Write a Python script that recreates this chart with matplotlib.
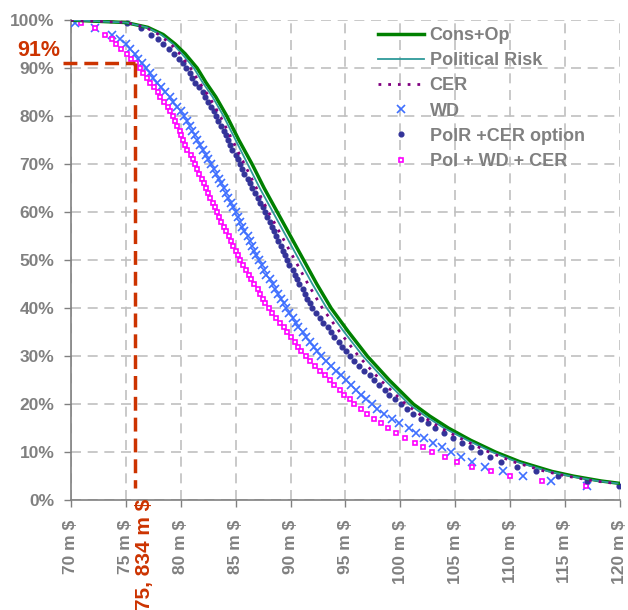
import matplotlib
matplotlib.use('Agg')
import matplotlib.pyplot as plt

plt.rcParams['font.family'] = ['Liberation Sans', 'DejaVu Sans']

## probability levels (%) and costs (m $)
LINE_PROB = [100, 99.5, 98.5, 97, 95, 93, 90, 87, 84, 80, 75, 70, 65, 60, 55, 50,
             45, 40, 35, 30, 25, 20, 17.5, 15, 12.5, 10, 8, 6, 5, 4, 3.5]
cons_op = [70.0, 75.0, 77.0, 78.4, 79.5, 80.4, 81.5, 82.3, 83.2, 84.2, 85.3, 86.5, 87.6,
           88.8, 90.0, 91.2, 92.4, 93.7, 95.3, 97.0, 99.0, 101.2, 102.7, 104.4, 106.4,
           108.7, 110.9, 113.8, 115.8, 118.3, 120.0]
political_risk = [70.0, 75.0, 76.9, 78.2, 79.3, 80.1, 81.2, 82.0, 82.9, 83.9, 85.0, 86.1,
                  87.2, 88.4, 89.6, 90.8, 92.0, 93.3, 94.9, 96.6, 98.6, 100.8, 102.3,
                  104.0, 106.1, 108.4, 110.6, 113.5, 115.5, 118.0, 119.8]
cer = [70.0, 75.0, 76.8, 78.0, 79.1, 79.9, 80.9, 81.7, 82.6, 83.6, 84.7, 85.8, 86.9, 88.0,
       89.2, 90.4, 91.6, 92.9, 94.5, 96.2, 98.2, 100.5, 102.0, 103.7, 105.8, 108.1, 110.3,
       113.2, 115.2, 117.7, 119.6]

MARKER_PROB = [99.5, 98.3, 97, 96, 95, 94, 93, 92, 91, 90,
               89, 88, 87, 86, 85, 84, 83, 82, 81, 80,
               79, 78, 77, 76, 75, 74, 73, 72, 71, 70,
               69, 68, 67, 66, 65, 64, 63, 62, 61, 60,
               59, 58, 57, 56, 55, 54, 53, 52, 51, 50,
               49, 48, 47, 46, 45, 44, 43, 42, 41, 40,
               39, 38, 37, 36, 35, 34, 33, 32, 31, 30,
               29, 28, 27, 26, 25, 24, 23, 22, 21, 20,
               19, 18, 17, 16, 15, 14, 13, 12, 11, 10,
               9, 8, 7, 6, 5, 4, 3]
wd = [70.4, 72.2, 73.7, 74.5, 75.0, 75.4, 75.8, 76.1, 76.5, 76.8,
      77.2, 77.5, 77.8, 78.2, 78.6, 79.0, 79.3, 79.7, 80.0, 80.3,
      80.6, 80.8, 81.0, 81.3, 81.5, 81.8, 82.0, 82.3, 82.5, 82.8,
      83.0, 83.2, 83.5, 83.7, 83.9, 84.1, 84.3, 84.6, 84.8, 85.0,
      85.2, 85.4, 85.6, 85.8, 86.1, 86.3, 86.5, 86.7, 86.9, 87.1,
      87.4, 87.6, 87.8, 88.1, 88.4, 88.6, 88.9, 89.1, 89.4, 89.6,
      89.9, 90.2, 90.5, 90.7, 91.1, 91.4, 91.8, 92.1, 92.4, 92.8,
      93.2, 93.7, 94.1, 94.6, 95.1, 95.5, 96.0, 96.4, 96.9, 97.4,
      97.9, 98.5, 99.2, 99.9, 100.8, 101.4, 102.2, 103.0, 103.8, 104.6,
      105.5, 106.5, 107.7, 109.4, 111.2, 113.7, 117.0]
polr_cer = [75.1, 76.4, 77.3, 77.9, 78.4, 78.9, 79.4, 79.8, 80.2, 80.5,
            80.8, 81.0, 81.3, 81.7, 82.0, 82.2, 82.5, 82.8, 83.0, 83.2,
            83.4, 83.7, 83.9, 84.1, 84.3, 84.5, 84.7, 85.0, 85.2, 85.4,
            85.6, 85.8, 86.1, 86.3, 86.5, 86.8, 87.0, 87.2, 87.5, 87.7,
            87.9, 88.1, 88.3, 88.5, 88.7, 88.9, 89.1, 89.3, 89.5, 89.7,
            89.9, 90.2, 90.4, 90.6, 90.8, 91.1, 91.3, 91.5, 91.8, 92.0,
            92.3, 92.7, 93.0, 93.4, 93.7, 94.0, 94.4, 94.7, 95.1, 95.4,
            95.8, 96.2, 96.7, 97.2, 97.6, 98.1, 98.6, 99.0, 99.5, 100.1,
            100.6, 101.2, 101.9, 102.5, 103.2, 104.0, 104.8, 105.6, 106.4, 107.3,
            108.2, 109.2, 110.6, 112.4, 114.4, 117.0, 119.9]
pol_wd_cer = [70.9, 72.2, 73.1, 73.7, 74.1, 74.6, 75.1, 75.5, 75.9, 76.3,
              76.6, 76.9, 77.2, 77.6, 77.9, 78.1, 78.5, 78.8, 79.0, 79.3,
              79.5, 79.7, 79.9, 80.0, 80.2, 80.4, 80.6, 80.9, 81.1, 81.3,
              81.5, 81.7, 81.9, 82.1, 82.3, 82.5, 82.7, 82.9, 83.1, 83.3,
              83.5, 83.7, 83.9, 84.1, 84.4, 84.6, 84.8, 85.0, 85.2, 85.4,
              85.7, 85.9, 86.2, 86.4, 86.7, 87.0, 87.2, 87.5, 87.7, 88.0,
              88.3, 88.7, 89.0, 89.4, 89.7, 90.0, 90.4, 90.7, 91.0, 91.4,
              91.8, 92.2, 92.7, 93.1, 93.6, 94.0, 94.5, 94.9, 95.4, 95.8,
              96.4, 97.0, 97.6, 98.2, 98.9, 99.6, 100.4, 101.3, 102.1, 102.9,
              104.1, 105.2, 106.5, 108.3, 110.0, 112.9, 116.9]

X_TICKS = [70, 75, 80, 85, 90, 95, 100, 105, 110, 115, 120]
X_TICK_LABELS = ['%d m $' % v for v in X_TICKS]
Y_TICKS = [0, 10, 20, 30, 40, 50, 60, 70, 80, 90, 100]
Y_TICK_LABELS = ['%d%%' % v for v in Y_TICKS]

CUTOFF_VALUE = 75.834
CUTOFF_PROB = 91
CUTOFF_LABEL = '75, 834 m $'
CUTOFF_PROB_LABEL = '91%'

GREY = '#808080'
RED = '#CC3300'

fig = plt.figure(figsize=(6.28, 6.10), dpi=100)
ax = fig.add_axes([0.113, 0.180, 0.874, 0.787])

ax.plot(wd, MARKER_PROB, linestyle='none', marker='x', color='#3F6FFF',
        markersize=6, markeredgewidth=1.2, label='WD', zorder=3)
ax.plot(polr_cer, MARKER_PROB, linestyle='none', marker='o', color='#333399',
        markersize=3.4, label='PolR +CER option', zorder=4)
ax.plot(pol_wd_cer, MARKER_PROB, linestyle='none', marker='s', color='#FF00FF',
        markerfacecolor='white', markersize=3.4, markeredgewidth=1.2,
        label='Pol + WD + CER', zorder=3)
ax.plot(cons_op, LINE_PROB, color='#008000', linewidth=2.5, label='Cons+Op', zorder=5)
ax.plot(political_risk, LINE_PROB, color='#2E9A9A', linewidth=1.3,
        label='Political Risk', zorder=5)
ax.plot(cer, LINE_PROB, color='#800080', linewidth=2, linestyle=(0, (1, 2.5)),
        label='CER', zorder=5)

## cut-off marker lines
ax.plot([69.3, CUTOFF_VALUE], [CUTOFF_PROB, CUTOFF_PROB], color=RED, linewidth=2.5,
        linestyle=(0, (4, 2)), clip_on=False, zorder=6)
ax.plot([CUTOFF_VALUE, CUTOFF_VALUE], [CUTOFF_PROB, 2.5], color=RED, linewidth=2.5,
        linestyle=(0, (4, 2)), zorder=6)
ax.text(CUTOFF_VALUE + 0.85, 0.4, CUTOFF_LABEL, rotation=90, ha='center', va='top',
        color=RED, fontsize=15, fontweight='bold', clip_on=False)
fig.text(17 / 628, 1 - 50 / 610, CUTOFF_PROB_LABEL, ha='left', va='center',
         color=RED, fontsize=15.5, fontweight='bold')

ax.set_xlim(70, 120)
ax.set_ylim(0, 100)
ax.set_xticks(X_TICKS, X_TICK_LABELS, rotation=90)
ax.set_yticks(Y_TICKS, Y_TICK_LABELS)
ax.tick_params(axis='both', colors=GREY, labelcolor=GREY, labelsize=12.5, length=5,
               width=1)
ax.tick_params(axis='x', pad=9)
ax.tick_params(axis='y', pad=7)
for lab in ax.get_xticklabels() + ax.get_yticklabels():
    lab.set_fontweight('bold')
ax.grid(True, color='#C0C0C0', linestyle=(0, (6, 4)), linewidth=1.2)
ax.set_axisbelow(True)
for side in ['top', 'right']:
    ax.spines[side].set_visible(False)
for side in ['left', 'bottom']:
    ax.spines[side].set_color(GREY)
    ax.spines[side].set_linewidth(1.2)

handles, labels = ax.get_legend_handles_labels()
order = [3, 4, 5, 0, 1, 2]
leg = ax.legend([handles[i] for i in order], [labels[i] for i in order],
                loc='upper left', bbox_to_anchor=(362 / 628, 1 - 11 / 610),
                bbox_transform=fig.transFigure, frameon=False, numpoints=1,
                handlelength=2.55, handletextpad=0.3, labelspacing=0.45,
                prop={'size': 13, 'weight': 'bold'})
for t in leg.get_texts():
    t.set_color(GREY)

plt.savefig('out.png', dpi=100)
